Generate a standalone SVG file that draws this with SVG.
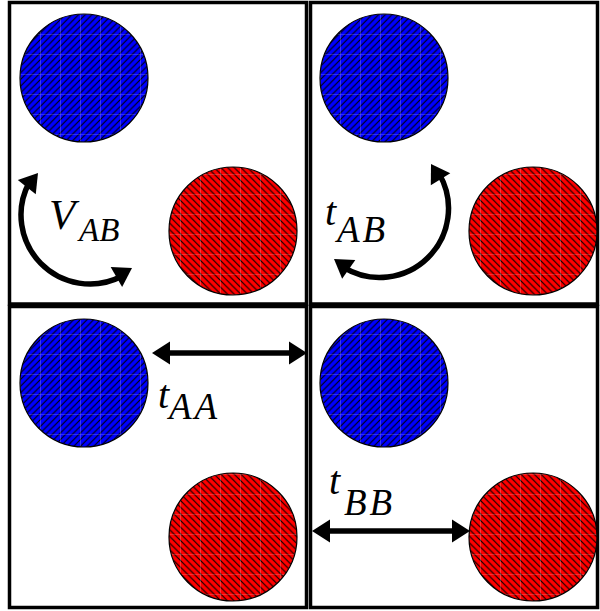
<svg xmlns="http://www.w3.org/2000/svg" xmlns:xlink="http://www.w3.org/1999/xlink" width="600" height="611" viewBox="0 0 600 611">
<style>
.box{fill:#fff;stroke:#000;stroke-width:3.5}
.blue{fill:#0000ff}
.red{fill:#ff0000}
.ring{fill:none;stroke:#000;stroke-width:1.2}
.conn{fill:none;stroke:#000;stroke-width:5.5}
.lbl{font-family:"Liberation Serif","Times New Roman",serif;font-style:italic;fill:#000}
.vv{font-size:43px}
.vs{font-size:33px}
.tt{font-size:40px}
.ts{font-size:37px;letter-spacing:3px}
</style>
<defs>
<pattern id="ne" patternUnits="userSpaceOnUse" width="6.667" height="6.667">
<path d="M-1,1 L1,-1 M0,6.667 L6.667,0 M5.667,7.667 L7.667,5.667" stroke="#000" stroke-width="1.1"/>
</pattern>
<pattern id="nw" patternUnits="userSpaceOnUse" width="6.667" height="6.667">
<path d="M-1,5.667 L1,7.667 M0,0 L6.667,6.667 M5.667,-1 L7.667,1" stroke="#000" stroke-width="1.1"/>
</pattern>
<pattern id="grid" patternUnits="userSpaceOnUse" x="0" y="14" width="20" height="20">
<path d="M0,0 H20 M0,0 V20" stroke="#fff" stroke-opacity="0.35" stroke-width="1.2" fill="none"/>
</pattern>
<path id="head" d="M0,0 L-18,-11.5 L-18,11.5 Z" fill="#000"/>
</defs>

<g id="panel-tl">
<rect class="box" x="9.5" y="2.5" width="297" height="301.5"/>
</g>
<g id="panel-tr">
<rect class="box" x="310.5" y="2.5" width="287" height="301.5"/>
</g>
<g id="panel-bl">
<rect class="box" x="9.5" y="306.5" width="297" height="301"/>
</g>
<g id="panel-br">
<rect class="box" x="310.5" y="306.5" width="287" height="301"/>
</g>

<g id="blue-tl"><circle cx="84" cy="78" r="64" class="blue"/><circle cx="84" cy="78" r="64" fill="url(#ne)"/><circle cx="84" cy="78" r="64" fill="url(#grid)"/><circle cx="84" cy="78" r="64" class="ring"/></g>
<g id="red-tl"><circle cx="233" cy="231" r="64" class="red"/><circle cx="233" cy="231" r="64" fill="url(#nw)"/><circle cx="233" cy="231" r="64" fill="url(#grid)"/><circle cx="233" cy="231" r="64" class="ring"/></g>
<g id="blue-tr"><circle cx="384" cy="78" r="64" class="blue"/><circle cx="384" cy="78" r="64" fill="url(#ne)"/><circle cx="384" cy="78" r="64" fill="url(#grid)"/><circle cx="384" cy="78" r="64" class="ring"/></g>
<g id="red-tr"><circle cx="533" cy="231" r="64" class="red"/><circle cx="533" cy="231" r="64" fill="url(#nw)"/><circle cx="533" cy="231" r="64" fill="url(#grid)"/><circle cx="533" cy="231" r="64" class="ring"/></g>
<g id="blue-bl"><circle cx="84" cy="383" r="64" class="blue"/><circle cx="84" cy="383" r="64" fill="url(#ne)"/><circle cx="84" cy="383" r="64" fill="url(#grid)"/><circle cx="84" cy="383" r="64" class="ring"/></g>
<g id="red-bl"><circle cx="233" cy="537" r="64" class="red"/><circle cx="233" cy="537" r="64" fill="url(#nw)"/><circle cx="233" cy="537" r="64" fill="url(#grid)"/><circle cx="233" cy="537" r="64" class="ring"/></g>
<g id="blue-br"><circle cx="384" cy="383" r="64" class="blue"/><circle cx="384" cy="383" r="64" fill="url(#ne)"/><circle cx="384" cy="383" r="64" fill="url(#grid)"/><circle cx="384" cy="383" r="64" class="ring"/></g>
<g id="red-br"><circle cx="533" cy="537" r="64" class="red"/><circle cx="533" cy="537" r="64" fill="url(#nw)"/><circle cx="533" cy="537" r="64" fill="url(#grid)"/><circle cx="533" cy="537" r="64" class="ring"/></g>

<g id="connectors">
<path class="conn" d="M29.1,182.6 A69 69 0 0 0 121.3,276.5"/>
<use xlink:href="#head" transform="translate(38,173) rotate(-51.4)"/>
<use xlink:href="#head" transform="translate(132,268) rotate(-29.9)"/>
<path class="conn" d="M439.3,174 A69 69 0 0 1 344,267.6"/>
<use xlink:href="#head" transform="translate(431,164) rotate(-122)"/>
<use xlink:href="#head" transform="translate(334,259) rotate(-145)"/>
<path class="conn" d="M164,353 H295"/>
<use xlink:href="#head" transform="translate(152,353) rotate(180)"/>
<use xlink:href="#head" transform="translate(307,353)"/>
<path class="conn" d="M324,531 H458"/>
<use xlink:href="#head" transform="translate(312,531) rotate(180)"/>
<use xlink:href="#head" transform="translate(470,531)"/>
</g>

<g id="labels">
<text class="lbl vv" x="49" y="229">V</text>
<text class="lbl vs" x="79" y="241">AB</text>
<text class="lbl tt" x="325" y="225">t</text>
<text class="lbl ts" x="337" y="242">AB</text>
<text class="lbl tt" x="158" y="408">t</text>
<text class="lbl ts" x="169" y="419">AA</text>
<text class="lbl tt" x="329" y="494">t</text>
<text class="lbl ts" x="344" y="515">BB</text>
</g>
</svg>
